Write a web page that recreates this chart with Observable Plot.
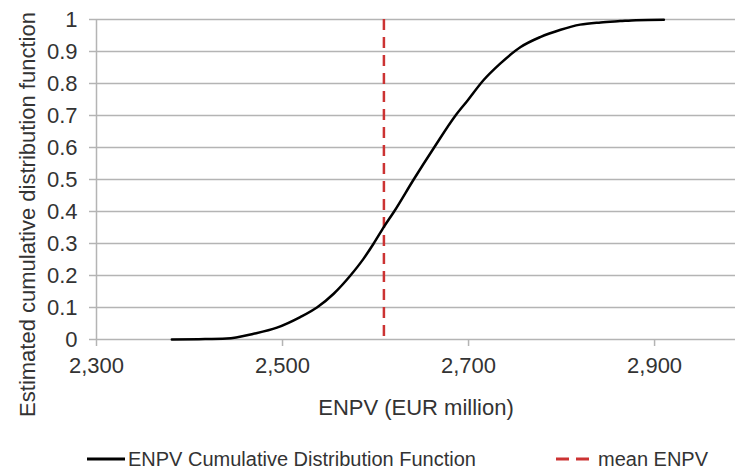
<!DOCTYPE html>
<html>
<head>
<meta charset="utf-8">
<script src="https://cdn.jsdelivr.net/npm/d3@7"></script>
<script src="https://cdn.jsdelivr.net/npm/@observablehq/plot@0.6"></script>
<style>
  html, body { margin: 0; padding: 0; background: #fff; }
  body { width: 735px; height: 470px; overflow: hidden; font-family: "Liberation Sans", Arial, sans-serif; }
  #legend { position: relative; height: 30px; font-size: 20px; color: #333; }
  .item { position: absolute; top: 0; height: 38px; display: flex; align-items: center; }
  .item span { white-space: nowrap; }
</style>
</head>
<body>
<div id="chart"></div>
<div id="legend"></div>
<script>
// Data
const enpvValues = [2381, 2410, 2440, 2469, 2494, 2519, 2537, 2555, 2573, 2587, 2598, 2609, 2620, 2641, 2663, 2686, 2699, 2716, 2734, 2756, 2777, 2799, 2820, 2842, 2863, 2880, 2910];
const cdfValues  = [0, 0.001, 0.003, 0.018, 0.037, 0.07, 0.1, 0.143, 0.2, 0.252, 0.3, 0.352, 0.4, 0.5, 0.6, 0.7, 0.747, 0.81, 0.862, 0.914, 0.945, 0.968, 0.984, 0.991, 0.995, 0.998, 0.999];
const meanENPV = 2609;
const xTicks = [2300, 2500, 2700, 2900];
const yTicks = [0, 0.1, 0.2, 0.3, 0.4, 0.5, 0.6, 0.7, 0.8, 0.9, 1];
const xDomain = [2300, 2987];
const xLabel = "ENPV (EUR million)";
const yLabel = "Estimated cumulative distribution function";
const seriesNames = ["ENPV Cumulative Distribution Function", "mean ENPV"];

const cdf = enpvValues.map((x, i) => ({x, y: cdfValues[i]}));

const gridColor = "#b4b4b4";
const textColor = "#333";
const redColor = "#cc3333";

const chart = Plot.plot({
  width: 735,
  height: 440,
  marginTop: 19,
  marginLeft: 96,
  marginRight: 0,
  marginBottom: 101,
  style: {fontFamily: "'Liberation Sans', Arial, sans-serif", background: "#fff"},
  x: {domain: xDomain},
  y: {domain: [0, 1]},
  marks: [
    Plot.gridY(yTicks, {stroke: gridColor, strokeOpacity: 1, strokeWidth: 1.5}),
    Plot.axisY(yTicks, {tickSize: 7, tickPadding: 12, stroke: gridColor, strokeWidth: 1.5, fill: textColor, fontSize: 22,
      tickFormat: d => String(Math.round(d * 10) / 10), label: null}),
    Plot.axisX(xTicks, {tickSize: 7, tickPadding: 11, stroke: gridColor, strokeWidth: 1.5, fill: textColor, fontSize: 22,
      tickFormat: d3.format(","), label: null}),
    Plot.ruleX([xDomain[0]], {stroke: gridColor, strokeWidth: 1.5}),
    Plot.ruleX([meanENPV], {stroke: redColor, strokeWidth: 2.5, strokeDasharray: "11,7"}),
    Plot.line(cdf, {x: "x", y: "y", stroke: "#000", strokeWidth: 2.5, curve: "monotone-x"}),
    Plot.text([xLabel], {frameAnchor: "bottom", dy: 68, fontSize: 22, fill: textColor, textAnchor: "middle", lineAnchor: "middle"}),
    Plot.text([yLabel], {frameAnchor: "left", dx: -69, dy: 35, rotate: -90, fontSize: 22, fill: textColor, textAnchor: "middle", lineAnchor: "middle"})
  ]
});
document.getElementById("chart").appendChild(chart);

// Legend below the SVG
const legend = d3.select("#legend");
const it1 = legend.append("div").attr("class", "item").style("left", "87px");
it1.append("svg").attr("width", 40).attr("height", 6)
  .append("line").attr("x1", 0).attr("x2", 38).attr("y1", 3).attr("y2", 3)
  .attr("stroke", "#000").attr("stroke-width", 3);
it1.append("span").text(seriesNames[0]).style("margin-left", "1px");
const it2 = legend.append("div").attr("class", "item").style("left", "556px");
it2.append("svg").attr("width", 36).attr("height", 6)
  .append("line").attr("x1", 0).attr("x2", 34).attr("y1", 3).attr("y2", 3)
  .attr("stroke", redColor).attr("stroke-width", 3).attr("stroke-dasharray", "13,7");
it2.append("span").text(seriesNames[1]).style("margin-left", "6px");
</script>
</body>
</html>
